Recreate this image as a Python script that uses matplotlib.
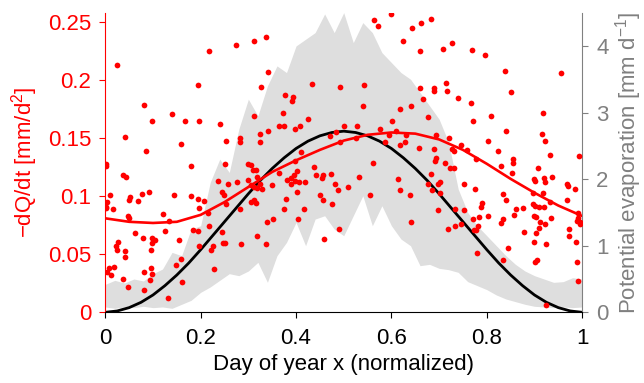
import numpy as np
import matplotlib
matplotlib.use("Agg")
import matplotlib.pyplot as plt

plt.rcParams['font.family'] = ['Liberation Sans', 'DejaVu Sans']
plt.rcParams['mathtext.fontset'] = 'custom'
plt.rcParams['mathtext.rm'] = 'Liberation Sans'
plt.rcParams['mathtext.it'] = 'Liberation Sans'

# -dQ/dt observations (x normalized day of year, y in mm/d^2)
obs_x = [0.002, 0.002, 0.024, 0.218, 0.275, 0.312, 0.337, 0.194, 0.327, 0.081,
         0.139, 0.098, 0.167, 0.196, 0.312, 0.240, 0.041, 0.254, 0.282, 0.283,
         0.325, 0.325, 0.158, 0.085, 0.600, 0.563, 0.571, 0.663, 0.644, 0.625,
         0.660, 0.342, 0.434, 0.493, 0.543, 0.377, 0.393, 0.391, 0.660, 0.667,
         0.540, 0.641, 0.619, 0.372, 0.425, 0.364, 0.375, 0.408, 0.398, 0.501,
         0.528, 0.601, 0.342, 0.575, 0.483, 0.471, 0.610, 0.631, 0.595, 0.493,
         0.526, 0.587, 0.617, 0.629, 0.657, 0.410, 0.562, 0.683, 0.728, 0.709,
         0.770, 0.797, 0.838, 0.956, 0.715, 0.690, 0.690, 0.717, 0.851, 0.740,
         0.767, 0.917, 0.808, 0.677, 0.772, 0.840, 0.915, 0.921, 0.693, 0.720,
         0.802, 0.745, 0.726, 0.731, 0.689, 0.759, 0.824, 0.933, 0.994, 0.778,
         0.854, 0.855, 0.693, 0.691, 0.712, 0.179, 0.252, 0.300, 0.305, 0.038,
         0.043, 0.309, 0.316, 0.237, 0.258, 0.276, 0.300, 0.319, 0.306, 0.311,
         0.319, 0.010, 0.004, 0.001, 0.051, 0.049, 0.077, 0.092, 0.068, 0.145,
         0.179, 0.194, 0.208, 0.245, 0.249, 0.253, 0.017, 0.047, 0.049, 0.122,
         0.134, 0.197, 0.216, 0.283, 0.305, 0.312, 0.316, 0.062, 0.125, 0.184,
         0.194, 0.218, 0.244, 0.079, 0.097, 0.104, 0.097, 0.027, 0.155, 0.246,
         0.250, 0.285, 0.318, 0.022, 0.025, 0.042, 0.095, 0.041, 0.197, 0.225,
         0.222, 0.019, 0.008, 0.003, 0.011, 0.096, 0.158, 0.148, 0.082, 0.098,
         0.038, 0.094, 0.228, 0.160, 0.047, 0.082, 0.131, 0.397, 0.437, 0.364,
         0.402, 0.382, 0.389, 0.395, 0.398, 0.389, 0.441, 0.456, 0.454, 0.474,
         0.533, 0.614, 0.406, 0.419, 0.482, 0.509, 0.325, 0.328, 0.350, 0.488,
         0.402, 0.556, 0.619, 0.638, 0.451, 0.456, 0.378, 0.476, 0.374, 0.416,
         0.405, 0.352, 0.339, 0.641, 0.491, 0.458, 0.337, 0.722, 0.731, 0.830,
         0.908, 0.852, 0.937, 0.898, 0.902, 0.920, 0.923, 0.683, 0.677, 0.697,
         0.701, 0.753, 0.775, 0.969, 0.971, 0.986, 0.686, 0.701, 0.896, 0.917,
         0.833, 0.841, 0.789, 0.787, 0.933, 0.969, 0.896, 0.902, 0.910, 0.919,
         0.861, 0.876, 0.991, 0.734, 0.753, 0.698, 0.857, 0.803, 0.898, 0.904,
         0.992, 0.990, 0.996, 0.996, 0.784, 0.772, 0.833, 0.830, 0.912, 0.935,
         0.745, 0.734, 0.719, 0.782, 0.778, 0.774, 0.909, 0.922, 0.973, 0.879,
         0.904, 0.973, 0.898, 0.924, 0.988, 0.844, 0.779, 0.835, 0.906, 0.901,
         0.989, 0.992, 0.925, 0.001]
obs_y = [0.128, 0.126, 0.213, 0.225, 0.230, 0.234, 0.237, 0.196, 0.194, 0.179,
         0.171, 0.165, 0.165, 0.165, 0.169, 0.162, 0.151, 0.148, 0.150, 0.147,
         0.154, 0.147, 0.145, 0.139, 0.257, 0.252, 0.247, 0.249, 0.245, 0.234,
         0.225, 0.207, 0.197, 0.194, 0.196, 0.187, 0.186, 0.182, 0.193, 0.184,
         0.178, 0.178, 0.175, 0.172, 0.167, 0.161, 0.161, 0.161, 0.158, 0.161,
         0.161, 0.165, 0.156, 0.158, 0.155, 0.152, 0.156, 0.153, 0.153, 0.147,
         0.150, 0.147, 0.144, 0.147, 0.142, 0.138, 0.129, 0.253, 0.232, 0.227,
         0.226, 0.222, 0.208, 0.206, 0.198, 0.193, 0.191, 0.191, 0.190, 0.185,
         0.180, 0.172, 0.169, 0.168, 0.165, 0.156, 0.154, 0.148, 0.153, 0.150,
         0.148, 0.144, 0.141, 0.139, 0.141, 0.140, 0.139, 0.136, 0.135, 0.132,
         0.132, 0.129, 0.133, 0.130, 0.129, 0.126, 0.128, 0.128, 0.127, 0.118,
         0.117, 0.123, 0.123, 0.113, 0.111, 0.112, 0.114, 0.117, 0.110, 0.108,
         0.107, 0.101, 0.095, 0.090, 0.099, 0.097, 0.102, 0.104, 0.096, 0.101,
         0.100, 0.098, 0.096, 0.104, 0.101, 0.093, 0.089, 0.083, 0.081, 0.085,
         0.079, 0.090, 0.086, 0.089, 0.095, 0.097, 0.094, 0.068, 0.070, 0.071,
         0.070, 0.074, 0.069, 0.064, 0.064, 0.062, 0.060, 0.061, 0.062, 0.060,
         0.060, 0.059, 0.066, 0.057, 0.054, 0.053, 0.054, 0.048, 0.057, 0.057,
         0.054, 0.039, 0.038, 0.035, 0.032, 0.038, 0.046, 0.041, 0.035, 0.033,
         0.029, 0.028, 0.037, 0.026, 0.022, 0.019, 0.012, 0.130, 0.125, 0.120,
         0.122, 0.114, 0.116, 0.118, 0.113, 0.111, 0.118, 0.118, 0.116, 0.119,
         0.117, 0.115, 0.112, 0.112, 0.111, 0.108, 0.111, 0.106, 0.110, 0.105,
         0.104, 0.101, 0.105, 0.101, 0.101, 0.097, 0.098, 0.093, 0.089, 0.089,
         0.080, 0.080, 0.078, 0.078, 0.072, 0.063, 0.059, 0.124, 0.124, 0.126,
         0.124, 0.120, 0.117, 0.115, 0.113, 0.116, 0.112, 0.119, 0.111, 0.111,
         0.112, 0.111, 0.106, 0.111, 0.109, 0.106, 0.105, 0.103, 0.103, 0.103,
         0.102, 0.097, 0.094, 0.091, 0.095, 0.097, 0.093, 0.092, 0.091, 0.091,
         0.089, 0.090, 0.086, 0.089, 0.088, 0.088, 0.084, 0.083, 0.083, 0.082,
         0.081, 0.079, 0.078, 0.076, 0.082, 0.080, 0.080, 0.077, 0.078, 0.081,
         0.076, 0.074, 0.072, 0.074, 0.071, 0.071, 0.073, 0.076, 0.072, 0.069,
         0.068, 0.066, 0.061, 0.059, 0.061, 0.055, 0.051, 0.045, 0.045, 0.043,
         0.043, 0.027, 0.006, 0.091]

# smooth fit of -dQ/dt (left axis)
fit_x = [0.00, 0.05, 0.10, 0.15, 0.20, 0.25, 0.30, 0.35, 0.40, 0.45, 0.50,
         0.55, 0.60, 0.65, 0.70, 0.75, 0.80, 0.85, 0.90, 0.95, 1.00]
fit_y = [0.081, 0.078, 0.077, 0.078, 0.084, 0.095, 0.108, 0.121, 0.131, 0.140,
         0.148, 0.153, 0.155, 0.154, 0.149, 0.140, 0.128, 0.115, 0.103, 0.092,
         0.083]

# mean potential evaporation (right axis, mm/d)
pet_x = [0.000, 0.025, 0.050, 0.075, 0.100, 0.125, 0.150, 0.175, 0.200, 0.225,
         0.250, 0.275, 0.300, 0.325, 0.350, 0.375, 0.400, 0.425, 0.450, 0.475,
         0.500, 0.525, 0.550, 0.575, 0.600, 0.625, 0.650, 0.675, 0.700, 0.725,
         0.750, 0.775, 0.800, 0.825, 0.850, 0.875, 0.900, 0.925, 0.950, 0.975,
         1.000]
pet_mean = [0.00, 0.02, 0.07, 0.15, 0.26, 0.40, 0.56, 0.74, 0.94, 1.15,
            1.36, 1.57, 1.78, 1.98, 2.16, 2.32, 2.46, 2.57, 2.65, 2.70,
            2.72, 2.70, 2.65, 2.57, 2.46, 2.32, 2.16, 1.98, 1.78, 1.57,
            1.36, 1.15, 0.94, 0.74, 0.56, 0.40, 0.26, 0.15, 0.07, 0.02,
            0.00]

# envelope of daily potential evaporation (right axis, mm/d)
env_x = [0.00, 0.02, 0.04, 0.06, 0.08, 0.10, 0.12, 0.14, 0.16, 0.18,
         0.20, 0.22, 0.24, 0.26, 0.28, 0.30, 0.32, 0.34, 0.36, 0.38,
         0.40, 0.42, 0.44, 0.46, 0.48, 0.50, 0.52, 0.54, 0.56, 0.58,
         0.60, 0.62, 0.64, 0.66, 0.68, 0.70, 0.72, 0.74, 0.76, 0.78,
         0.80, 0.82, 0.84, 0.86, 0.88, 0.90, 0.92, 0.94, 0.96, 0.98,
         1.00]
env_hi = [0.42, 0.48, 0.44, 0.50, 0.47, 0.58, 0.65, 0.90, 0.85, 1.25,
          1.30, 1.95, 2.30, 2.10, 2.75, 3.20, 2.95, 3.40, 3.70, 3.60,
          4.00, 4.10, 4.20, 4.48, 4.20, 4.50, 4.05, 4.35, 4.20, 3.90,
          3.75, 3.60, 3.50, 3.30, 3.10, 2.90, 2.55, 1.85, 1.50, 1.30,
          1.15, 1.00, 0.85, 0.72, 0.62, 0.55, 0.50, 0.45, 0.46, 0.52,
          0.50]
env_lo = [0.08, 0.06, 0.08, 0.07, 0.09, 0.07, 0.08, 0.06, 0.12, 0.18,
          0.30, 0.38, 0.48, 0.58, 0.55, 0.62, 0.75, 0.45, 0.85, 1.05,
          1.35, 1.00, 1.40, 1.45, 1.25, 1.15, 1.45, 1.75, 1.30, 1.60,
          1.30, 1.10, 1.00, 0.70, 0.72, 0.66, 0.64, 0.60, 0.46, 0.40,
          0.34, 0.26, 0.20, 0.16, 0.12, 0.09, 0.08, 0.07, 0.08, 0.07,
          0.08]

red = '#ff0000'
grey = '#808080'
fs = 16

fig = plt.figure(figsize=(6.44, 3.83), dpi=100)
ax = fig.add_axes([0.1635, 0.1846, 0.7405, 0.7824])
ax2 = ax.twinx()

ax2.fill_between(env_x, env_lo, env_hi, color='#dedede', lw=0)
ax2.plot(pet_x, pet_mean, color='black', lw=2.0)
ax2.set_ylim(0, 4.5)
ax2.set_yticks([0, 1, 2, 3, 4])
ax2.set_ylabel('Potential evaporation [mm d$^{-1}$]', color=grey, fontsize=fs,
               labelpad=3)
ax2.tick_params(axis='y', colors=grey, labelsize=fs, direction='out', length=4,
                pad=6)

ax.set_zorder(ax2.get_zorder() + 1)
ax.patch.set_visible(False)
ax.scatter(obs_x, obs_y, s=17, color=red, lw=0)
ax.plot(fit_x, fit_y, color=red, lw=1.9)
ax.set_xlim(0, 1)
ax.set_ylim(0, 0.2583)
ax.set_yticks([0, 0.05, 0.1, 0.15, 0.2, 0.25])
ax.set_yticklabels(['0', '0.05', '0.1', '0.15', '0.2', '0.25'])
ax.set_xticks([0, 0.2, 0.4, 0.6, 0.8, 1])
ax.set_xticklabels(['0', '0.2', '0.4', '0.6', '0.8', '1'])
ax.set_ylabel('\u2212dQ/dt [mm/d$^2$]', color=red, fontsize=fs, labelpad=6)
ax.set_xlabel('Day of year x (normalized)', fontsize=fs, labelpad=4)
ax.tick_params(axis='y', colors=red, labelsize=fs, direction='out', length=4,
               pad=6)
ax.tick_params(axis='x', labelsize=fs, direction='out', length=4, pad=7)

for a in (ax, ax2):
    a.spines['top'].set_visible(False)
ax.spines['left'].set_color(red)
ax.spines['right'].set_visible(False)
ax2.spines['left'].set_visible(False)
ax2.spines['right'].set_color(grey)
ax2.spines['bottom'].set_visible(False)

fig.savefig('out.png', dpi=100)
